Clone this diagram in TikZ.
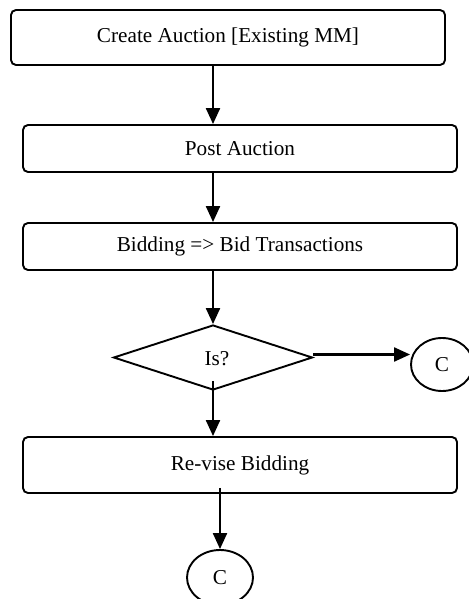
\documentclass[tikz,border=0pt]{standalone}
\usepackage{fontspec}
\setmainfont{Liberation Serif}
\usetikzlibrary{shapes.geometric,arrows.meta}

\begin{document}
\begin{tikzpicture}[x=1pt, y=-1pt,
    procbox/.style={draw, line width=1.9pt, rounded corners=5pt, minimum width=434pt, inner sep=0pt},
    decbox/.style={draw, diamond, line width=1.9pt, minimum width=199pt, minimum height=65pt, aspect=3, inner sep=0pt},
    connbox/.style={draw, ellipse, line width=1.9pt, minimum width=62pt, minimum height=53pt, inner sep=0pt},
    arr/.style={line width=2.2pt, -{Triangle[length=16pt,width=14pt]}},
    font=\fontsize{21.2}{25}\selectfont]
    \useasboundingbox (0,0) rectangle (468,599);
    % Main flow
    \node[procbox, minimum height=55pt] (create) at (228,37.5) {Create Auction [Existing MM]};
    \node[procbox, minimum height=47pt] (post) at (240,148.5) {Post Auction};
    \node[procbox, minimum height=47pt] (bid) at (240,246.5) {Bidding => Bid Transactions};
    \node[decbox] (is) at (213,357.5) {};
    \node at (217,359) {Is?};
    \node[procbox, minimum height=56pt] (revise) at (240,465) {Re-vise Bidding};
    % Connectors
    \node[connbox] (cright) at (442,364.5) {C};
    \node[connbox, minimum width=66pt, minimum height=55pt] (cdown) at (220,577.5) {C};
    \draw[arr] (create.south -| is.north) -- (post.north -| is.north);
    \draw[arr] (post.south -| is.north) -- (bid.north -| is.north);
    \draw[arr] (bid.south -| is.north) -- (is.north);
    \draw[arr] ([yshift=3pt]is.east) -- ([yshift=3pt]is.east -| cright.west);
    \draw[arr] ([yshift=10pt]is.south) -- (revise.north -| is.south);
    \draw[arr] ([yshift=6pt]revise.south -| cdown.north) -- (cdown.north);
\end{tikzpicture}
\end{document}
